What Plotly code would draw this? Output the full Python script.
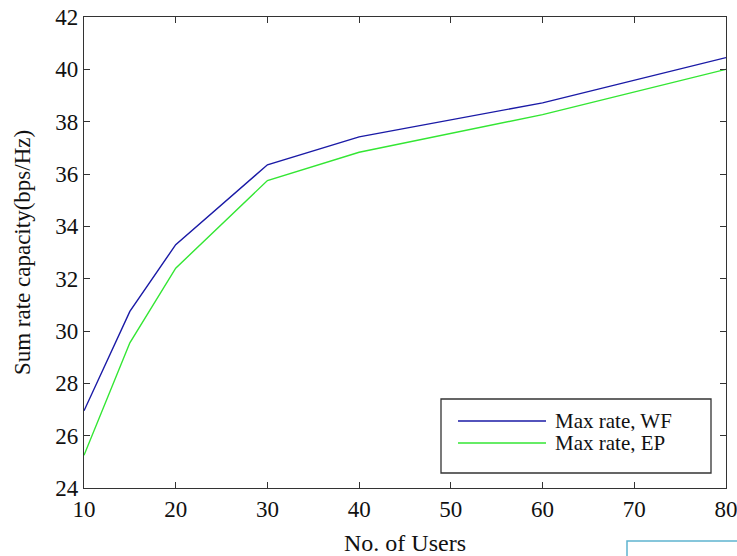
import plotly.graph_objects as go

# ---- data ----
users = [10, 15, 20, 30, 40, 60, 80]
rate_wf = [26.95, 30.75, 33.3, 36.35, 37.42, 38.72, 40.45]
rate_ep = [25.25, 29.55, 32.4, 35.75, 36.83, 38.27, 40.0]
series_names = ["Max rate, WF", "Max rate, EP"]
x_ticks = [10, 20, 30, 40, 50, 60, 70, 80]
y_ticks = [24, 26, 28, 30, 32, 34, 36, 38, 40, 42]

# ---- style ----
W, H = 737, 556
ML, MR, MT, MB = 84, 11, 17, 68
colors = ["#1a1aa6", "#33e633"]
FONT = "Liberation Serif, Times New Roman, serif"

fig = go.Figure()
for ys, name, c in zip([rate_wf, rate_ep], series_names, colors):
    fig.add_trace(go.Scatter(x=users, y=ys, mode="lines", name=name,
                             line=dict(color=c, width=1.4), showlegend=False))

axis_common = dict(showgrid=False, zeroline=False, showline=True, linecolor="#333333",
                   linewidth=1.3, mirror="ticks", ticks="inside", ticklen=6,
                   tickcolor="#333333", tickwidth=1.3, automargin=False,
                   ticklabeloverflow="allow",
                   tickfont=dict(family=FONT, size=23, color="#111111"))

fig.update_xaxes(range=[10, 80], tickvals=x_ticks, **axis_common,
                 title=dict(text="No. of Users", font=dict(family=FONT, size=24, color="#111111"),
                            standoff=19))
fig.update_yaxes(range=[24, 42], tickvals=y_ticks, **axis_common,
                 title=dict(text="Sum rate capacity(bps/Hz)",
                            font=dict(family=FONT, size=23, color="#111111"), standoff=18))

# manual legend (MATLAB style) in pixel -> paper coords
pw, ph = W - ML - MR, H - MT - MB
def px(x):
    return (x - ML) / pw
def py(y):
    return (H - MB - y) / ph

shapes = [dict(type="rect", xref="paper", yref="paper",
               x0=px(441), x1=px(711), y0=py(473), y1=py(399),
               line=dict(color="#333333", width=1.3), fillcolor="white", layer="above")]
annotations = []
for i, (name, c) in enumerate(zip(series_names, colors)):
    yy = 421 + 22 * i
    shapes.append(dict(type="line", xref="paper", yref="paper",
                       x0=px(458), x1=px(546), y0=py(yy), y1=py(yy),
                       line=dict(color=c, width=1.4), layer="above"))
    annotations.append(dict(xref="paper", yref="paper", x=px(553), y=py(yy),
                            text=name, showarrow=False, xanchor="left", yanchor="middle",
                            height=20,
                            font=dict(family=FONT, size=21, color="#111111")))

# small light-blue box artifact at bottom right of the reference
shapes.append(dict(type="rect", xref="paper", yref="paper",
                   x0=px(627), x1=px(740), y0=py(560), y1=py(541),
                   line=dict(color="#5fb4d0", width=1.5), fillcolor="rgba(0,0,0,0)"))

fig.update_layout(width=W, height=H, margin=dict(l=ML, r=MR, t=MT, b=MB, autoexpand=False),
                  paper_bgcolor="white", plot_bgcolor="white",
                  shapes=shapes, annotations=annotations, showlegend=False)

fig.write_html("out.html")
